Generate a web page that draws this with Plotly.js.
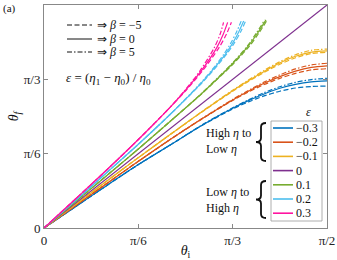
<!DOCTYPE html>
<html><head><meta charset="utf-8">
<script src="https://cdn.plot.ly/plotly-3.0.1.min.js"></script>
<style>html,body{margin:0;padding:0;background:#fff}</style>
</head><body><div id="chart" style="width:337px;height:260px"></div>
<script>
// ---------- data (angles in degrees; axis labelled in radians) ----------
const epsLabels = ['−0.3','−0.2','−0.1','0','0.1','0.2','0.3'];
const betaLabels = ['−5','0','5'];
const tickVals = [0, 30, 60, 90];
const tickText = ['0', 'π/6', 'π/3', 'π/2'];

const thetaINeg = [0,10,20,30,40,50,60,65,70,75,80,85,90];
const thetaF_m03_bm5 = [0, 8.6, 17.2, 25.6, 33.4, 41.2, 48.0, 50.9, 53.3, 55.2, 56.5, 57.1, 57.3];
const thetaF_m03_b0  = [0, 8.6, 17.2, 25.6, 33.4, 41.3, 48.3, 51.4, 54.1, 56.4, 58.0, 59.0, 59.4];
const thetaF_m03_b5  = [0, 8.6, 17.2, 25.6, 33.4, 41.4, 48.5, 51.7, 54.6, 57.0, 58.8, 59.9, 60.4];
const thetaF_m02_bm5 = [0, 9.0, 18.0, 26.9, 35.6, 43.8, 51.5, 54.9, 57.9, 60.4, 62.4, 63.8, 64.3];
const thetaF_m02_b0  = [0, 9.0, 18.0, 26.9, 35.6, 43.9, 51.7, 55.2, 58.4, 61.1, 63.3, 64.8, 65.4];
const thetaF_m02_b5  = [0, 9.0, 18.0, 26.9, 35.6, 44.0, 51.9, 55.5, 58.9, 61.8, 64.2, 65.8, 66.5];
const thetaF_m01_bm5 = [0, 9.5, 19.0, 28.4, 37.6, 46.6, 55.2, 59.1, 62.8, 66.1, 68.7, 70.4, 70.9];
const thetaF_m01_b0  = [0, 9.5, 19.0, 28.4, 37.6, 46.7, 55.4, 59.4, 63.2, 66.6, 69.3, 71.0, 71.5];
const thetaF_m01_b5  = [0, 9.5, 19.0, 28.4, 37.6, 46.8, 55.6, 59.7, 63.6, 67.1, 69.9, 71.7, 72.2];

const thetaI_0 = [0, 90];
const thetaF_0 = [0, 90];

const thetaF_p01 = [0, 10.6, 21.2, 31.9, 42.9, 54.1, 66.4, 73.5, 78.8, 84.0];
const thetaI_p01_bm5 = [0, 10, 20, 30, 40, 50.1, 60.3, 65.4, 68.4, 71.0];
const thetaI_p01_b0  = [0, 10, 20, 30, 40, 50, 60, 65, 68, 70.6];
const thetaI_p01_b5  = [0, 10, 20, 30, 40, 49.9, 59.8, 64.7, 67.6, 70.2];

const thetaF_p02 = [0, 11.1, 22.4, 33.8, 45.7, 58.5, 65.8, 70.7, 74.6, 79.3, 83.5];
const thetaI_p02_bm5 = [0, 10, 20, 30, 40, 50.2, 55.3, 58.4, 60.5, 62.6, 64.1];
const thetaI_p02_b0  = [0, 10, 20, 30, 40, 50, 55, 58, 60, 62, 63.5];
const thetaI_p02_b5  = [0, 10, 20, 30, 40, 49.8, 54.7, 57.5, 59.4, 61.3, 62.7];

const thetaF_p03 = [0, 11.7, 23.5, 35.7, 48.6, 55.6, 63.4, 72.9, 78.2, 83.0];
const thetaI_p03_bm5 = [0, 10, 20, 30, 40, 45.2, 50.4, 55.7, 58.0, 59.6];
const thetaI_p03_b0  = [0, 10, 20, 30, 40, 45, 50, 55, 57, 58.4];
const thetaI_p03_b5  = [0, 10, 20, 30, 40, 44.8, 49.6, 54.2, 56.0, 57.1];

// ---------- styles ----------
const colors = ['#0072BD','#D95319','#EDB120','#7E2F8E','#77AC30','#4DBEEE','#FF14A0'];
const dashes = {bm5: '5px,2.5px', b0: 'solid', b5: '5px,2px,1.5px,2px'};
const FONT = 'Liberation Serif';

function tr(x, y, ci, d) {
  return {x: x, y: y, type: 'scatter', mode: 'lines', showlegend: false, hoverinfo: 'skip',
          line: {color: colors[ci], width: 1.2, dash: dashes[d], shape: 'spline', smoothing: 0.8}};
}
const traces = [
  tr(thetaINeg, thetaF_m03_bm5, 0, 'bm5'), tr(thetaINeg, thetaF_m03_b5, 0, 'b5'), tr(thetaINeg, thetaF_m03_b0, 0, 'b0'),
  tr(thetaINeg, thetaF_m02_bm5, 1, 'bm5'), tr(thetaINeg, thetaF_m02_b5, 1, 'b5'), tr(thetaINeg, thetaF_m02_b0, 1, 'b0'),
  tr(thetaINeg, thetaF_m01_bm5, 2, 'bm5'), tr(thetaINeg, thetaF_m01_b5, 2, 'b5'), tr(thetaINeg, thetaF_m01_b0, 2, 'b0'),
  tr(thetaI_0, thetaF_0, 3, 'b0'),
  tr(thetaI_p01_bm5, thetaF_p01, 4, 'bm5'), tr(thetaI_p01_b5, thetaF_p01, 4, 'b5'), tr(thetaI_p01_b0, thetaF_p01, 4, 'b0'),
  tr(thetaI_p02_bm5, thetaF_p02, 5, 'bm5'), tr(thetaI_p02_b5, thetaF_p02, 5, 'b5'), tr(thetaI_p02_b0, thetaF_p02, 5, 'b0'),
  tr(thetaI_p03_bm5, thetaF_p03, 6, 'bm5'), tr(thetaI_p03_b5, thetaF_p03, 6, 'b5'), tr(thetaI_p03_b0, thetaF_p03, 6, 'b0')
];

// ---------- pixel -> paper helpers for decorations ----------
const L = 44, R = 327, T = 5, B = 228;
const px = v => (v - L) / (R - L);
const py = v => (B - v) / (B - T);

const shapes = [];
const annotations = [];
function hline(x0, x1, y, color, dash, w) {
  shapes.push({type: 'line', xref: 'paper', yref: 'paper', x0: px(x0), x1: px(x1), y0: py(y), y1: py(y),
               line: {color: color, width: w, dash: dash}});
}
function text(t, x, y, xa, size, extra) {
  annotations.push(Object.assign({text: t, xref: 'paper', yref: 'paper', x: px(x), y: py(y), xanchor: xa, yanchor: 'middle',
    showarrow: false, font: {family: FONT, size: size, color: '#111'}, align: 'left'}, extra || {}));
}
function brace(xl, xr, yt, yb) {
  const xm = (xl + xr) / 2, ym = (yt + yb) / 2, r = 4;
  const P = (x, y) => px(x) + ',' + py(y);
  const path = 'M' + P(xr, yt) + ' Q' + P(xm, yt) + ' ' + P(xm, yt + r) + ' L' + P(xm, ym - r) +
               ' Q' + P(xm, ym) + ' ' + P(xl, ym) + ' Q' + P(xm, ym) + ' ' + P(xm, ym + r) +
               ' L' + P(xm, yb - r) + ' Q' + P(xm, yb) + ' ' + P(xr, yb);
  shapes.push({type: 'path', xref: 'paper', yref: 'paper', path: path, line: {color: '#111', width: 1.8}});
}

// beta key (top-left)
const keyY = [25, 39, 52];
const keyDash = [dashes.bm5, 'solid', dashes.b5];
for (let i = 0; i < 3; i++) {
  hline(67, 92, keyY[i], '#111', keyDash[i], 1);
  text('⇒ <i>β</i> = ' + betaLabels[i], 95, keyY[i], 'left', 12);
}
text('<i>ε</i> = (<i>η</i><sub>1</sub> − <i>η</i><sub>0</sub>) / <i>η</i><sub>0</sub>', 64, 79, 'left', 13);
text('(a)', 1, 8, 'left', 11);

// epsilon legend box
shapes.push({type: 'rect', xref: 'paper', yref: 'paper', x0: px(271), x1: px(322), y0: py(221), y1: py(121),
             fillcolor: '#fff', line: {color: '#9a9a9a', width: 0.8}});
text('<i>ε</i>', 308, 112, 'center', 12);
for (let i = 0; i < epsLabels.length; i++) {
  const y = 128 + i * 14.2;
  hline(273, 293, y, colors[i], 'solid', 1.6);
  text(epsLabels[i], 294, y, 'left', 12);
}
brace(256, 266, 123, 161);
brace(256, 266, 181, 218);
text('High <i>η</i> to<br>Low <i>η</i>', 204, 141, 'left', 12);
text('Low <i>η</i> to<br>High <i>η</i>', 204, 200, 'left', 12);

const axisCommon = {
  range: [0, 90], tickvals: tickVals, ticktext: tickText, ticks: 'inside', ticklen: 4,
  tickcolor: '#888', showline: true, linecolor: '#888', linewidth: 1, mirror: 'ticks',
  showgrid: false, zeroline: false, fixedrange: true,
  tickfont: {family: FONT, size: 13, color: '#222'}
};
const layout = {
  width: 337, height: 260, margin: {l: L, r: 337 - R, t: T, b: 260 - B},
  paper_bgcolor: '#fff', plot_bgcolor: '#fff', showlegend: false,
  font: {family: FONT},
  xaxis: Object.assign({}, axisCommon, {title: {text: '<i>θ</i><sub>i</sub>', font: {family: FONT, size: 14, color: '#111'}, standoff: 4}}),
  yaxis: Object.assign({}, axisCommon, {title: {text: '<i>θ</i><sub><i>f</i></sub>', font: {family: FONT, size: 14, color: '#111'}, standoff: 1}}),
  shapes: shapes, annotations: annotations
};
Plotly.newPlot('chart', traces, layout, {staticPlot: true, displayModeBar: false});
</script></body></html>
